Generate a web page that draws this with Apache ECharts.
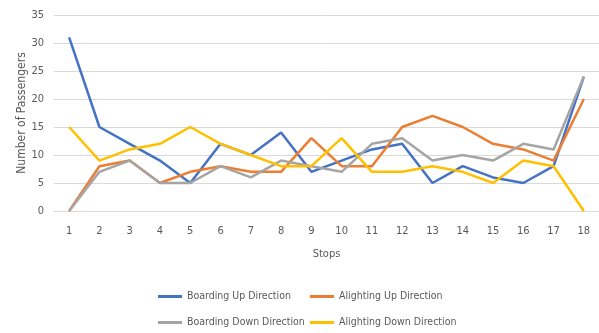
<!DOCTYPE html>
<html>
<head>
<meta charset="utf-8">
<script src="https://cdn.jsdelivr.net/npm/echarts@6/dist/echarts.min.js"></script>
<style>
  html, body { margin: 0; padding: 0; background: #fff; }
  #chart { width: 599px; height: 333px; }
</style>
</head>
<body>
<div id="chart"></div>
<script>
// Passenger counts per stop
const stops = ['1','2','3','4','5','6','7','8','9','10','11','12','13','14','15','16','17','18'];
const boardingUp     = [31, 15, 12, 9, 5, 12, 10, 14, 7, 9, 11, 12, 5, 8, 6, 5, 8, 24];
const alightingUp    = [0, 8, 9, 5, 7, 8, 7, 7, 13, 8, 8, 15, 17, 15, 12, 11, 9, 20];
const boardingDown   = [0, 7, 9, 5, 5, 8, 6, 9, 8, 7, 12, 13, 9, 10, 9, 12, 11, 24];
const alightingDown  = [15, 9, 11, 12, 15, 12, 10, 8, 8, 13, 7, 7, 8, 7, 5, 9, 8, 0];
const yTicks = [0, 5, 10, 15, 20, 25, 30, 35];

const FONT = "'Liberation Sans Narrow', 'DejaVu Sans Condensed', 'Roboto', sans-serif";
const TEXT = '#595959';

const seriesDefs = [
  { name: 'Boarding Up Direction',    data: boardingUp,    color: '#4472C4' },
  { name: 'Alighting Up Direction',   data: alightingUp,   color: '#ED7D31' },
  { name: 'Boarding Down Direction',  data: boardingDown,  color: '#A5A5A5' },
  { name: 'Alighting Down Direction', data: alightingDown, color: '#FFC000' }
];

// one legend per entry so the two columns line up
const legendPos = [
  { left: 158, top: 291 },
  { left: 310, top: 291 },
  { left: 158, top: 317 },
  { left: 310, top: 317 }
];

const chart = echarts.init(document.getElementById('chart'), null, { renderer: 'canvas' });
chart.setOption({
  animation: false,
  color: seriesDefs.map(s => s.color),
  grid: { left: 54, right: 0, top: 15, bottom: 122 },
  legend: seriesDefs.map((s, i) => ({
    data: [s.name],
    left: legendPos[i].left,
    top: legendPos[i].top,
    icon: 'rect',
    itemWidth: 24,
    itemHeight: 3,
    padding: 0,
    selectedMode: false,
    textStyle: { color: TEXT, fontFamily: FONT, fontSize: 10.5 }
  })),
  xAxis: {
    type: 'category',
    data: stops,
    boundaryGap: true,
    name: 'Stops',
    nameLocation: 'middle',
    nameGap: 38,
    nameTextStyle: { color: TEXT, fontFamily: FONT, fontSize: 11 },
    axisLine: { show: true, lineStyle: { color: '#D9D9D9', width: 1 } },
    axisTick: { show: false },
    axisLabel: { color: TEXT, fontFamily: FONT, fontSize: 11, margin: 15 }
  },
  yAxis: {
    type: 'value',
    min: yTicks[0],
    max: yTicks[yTicks.length - 1],
    interval: 5,
    name: 'Number of Passengers',
    nameLocation: 'middle',
    nameGap: 26,
    nameMoveOverlap: false,
    nameTextStyle: { color: TEXT, fontFamily: FONT, fontSize: 12 },
    axisLine: { show: false },
    axisTick: { show: false },
    axisLabel: { color: TEXT, fontFamily: FONT, fontSize: 11, margin: 10 },
    splitLine: { lineStyle: { color: '#D9D9D9', width: 1 } }
  },
  series: seriesDefs.map(s => ({
    name: s.name,
    type: 'line',
    data: s.data,
    symbol: 'none',
    smooth: false,
    lineStyle: { width: 2.5, color: s.color },
    itemStyle: { color: s.color }
  }))
});
</script>
</body>
</html>
